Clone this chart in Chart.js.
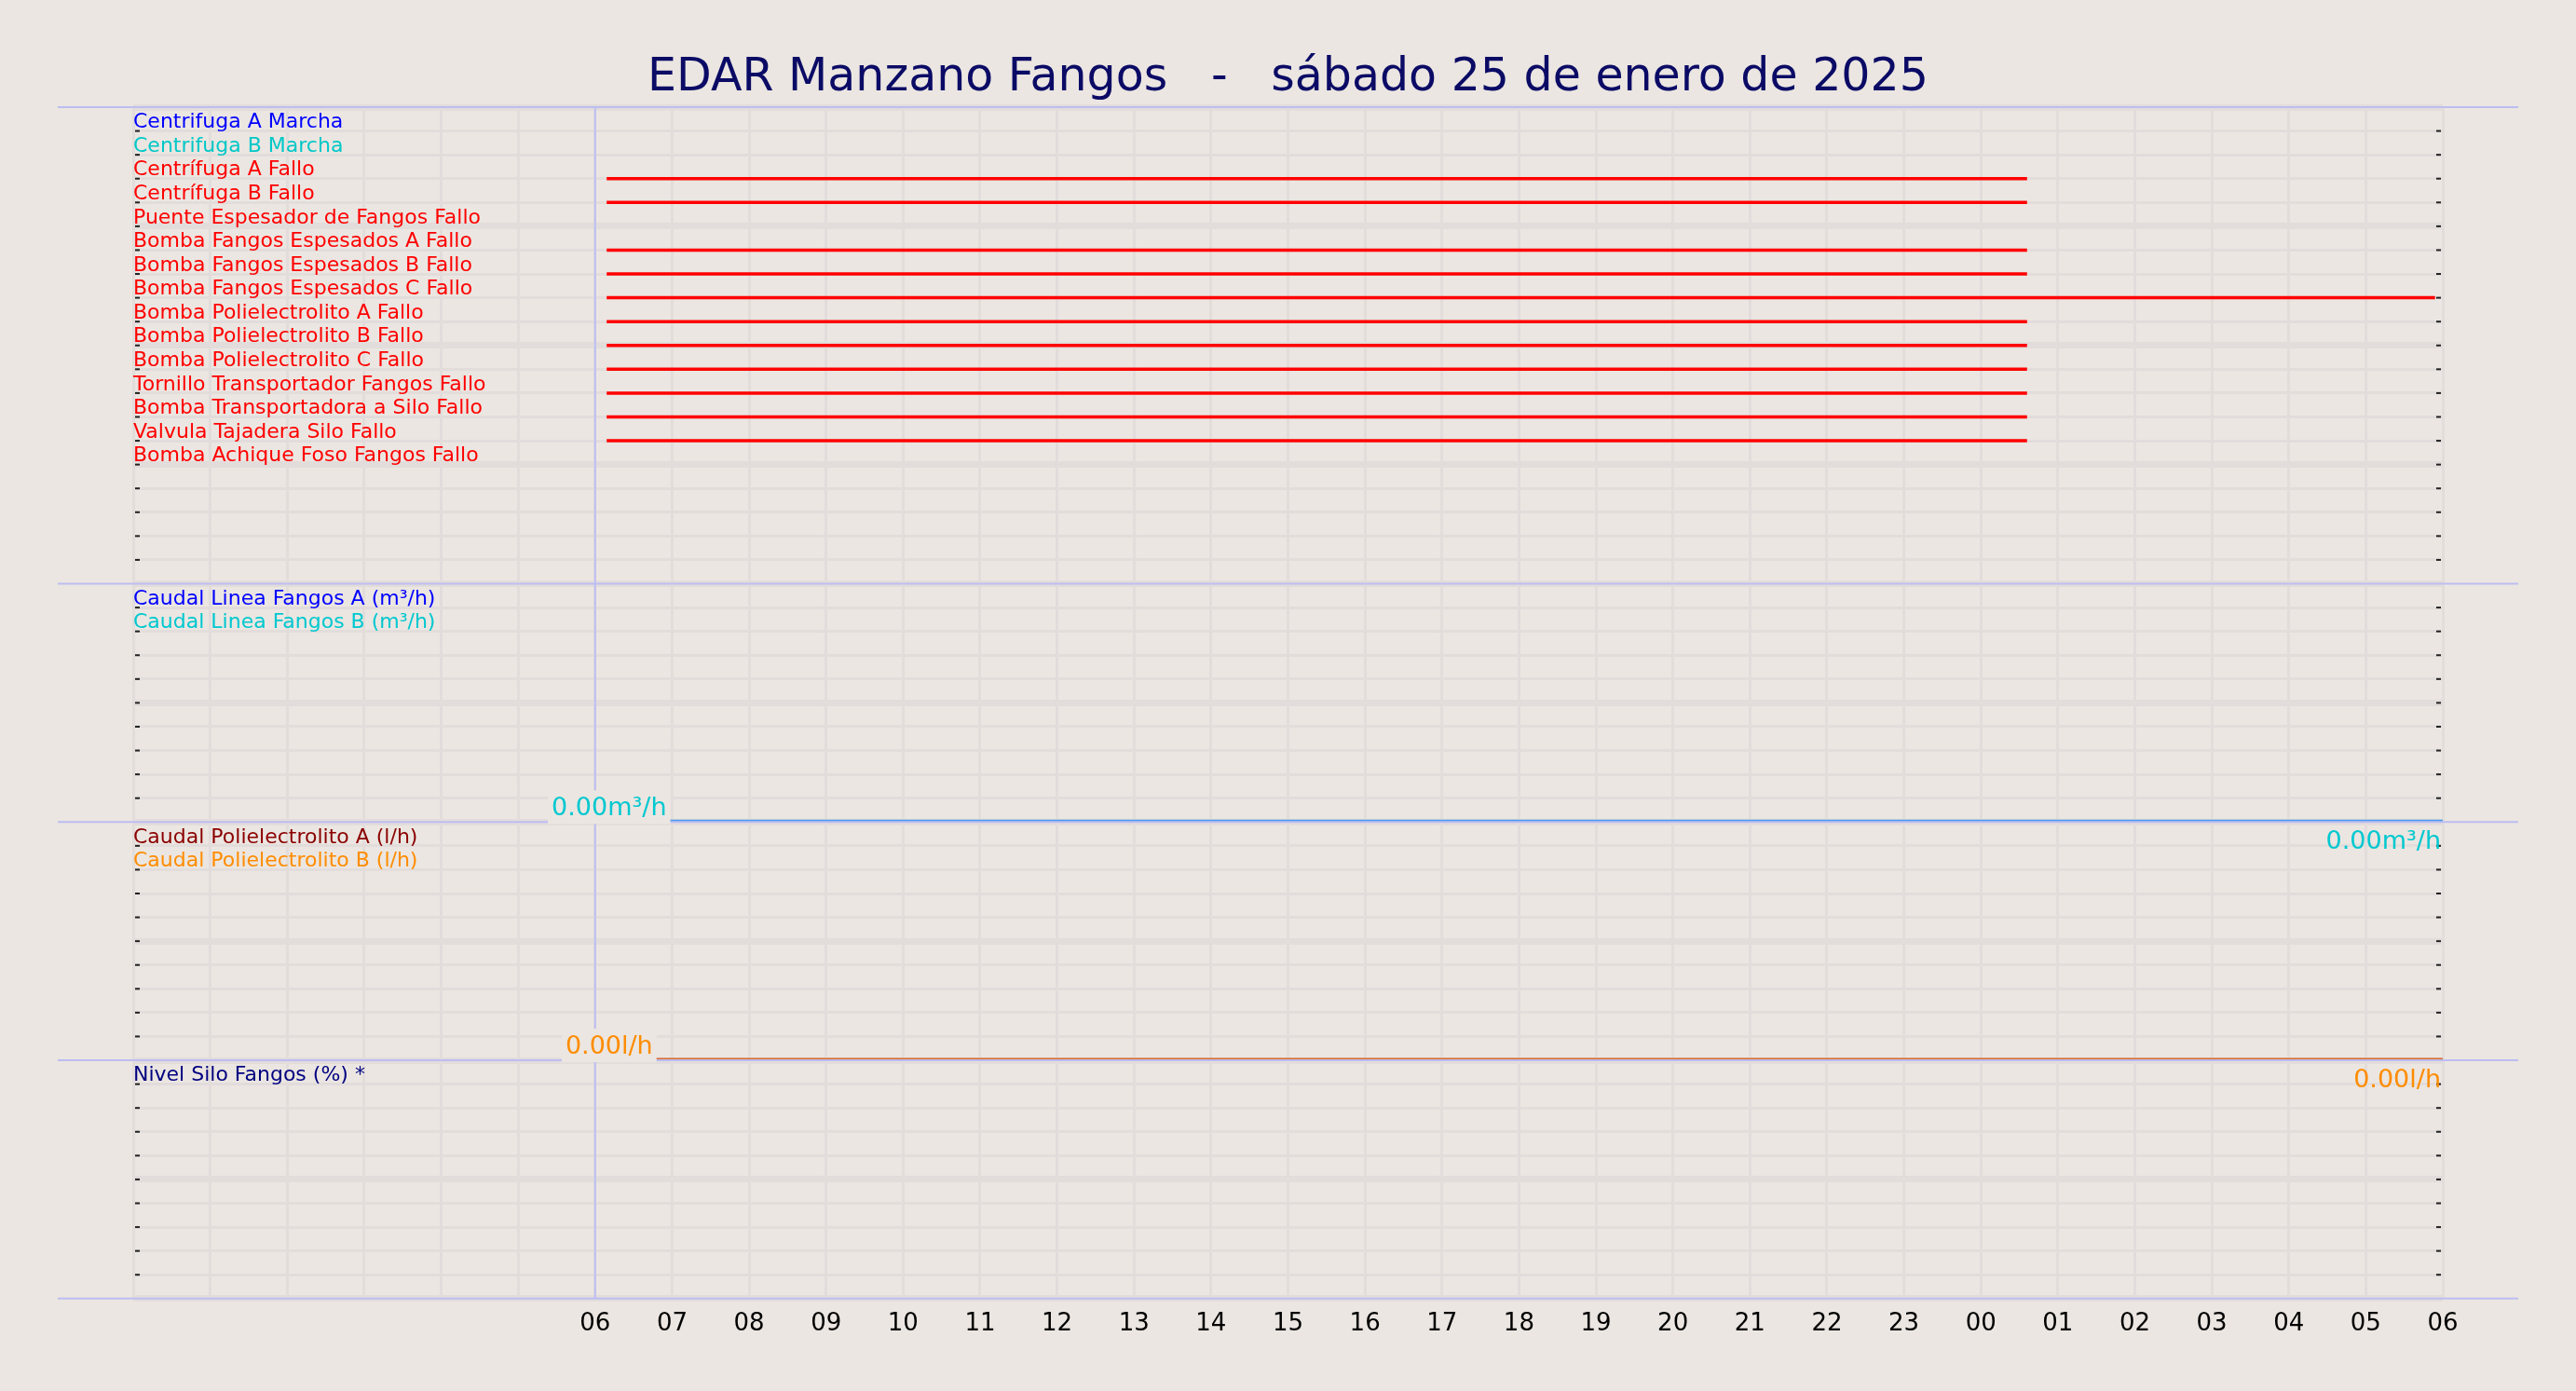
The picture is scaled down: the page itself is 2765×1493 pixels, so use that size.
<!DOCTYPE html>
<html><head><meta charset="utf-8">
<script src="https://cdn.jsdelivr.net/npm/chart.js@4"></script>
<style>
html,body{margin:0;padding:0;background:#ebe6e1;}
#wrap{position:relative;width:2765px;height:1493px;}
#title{position:absolute;left:0;top:52px;width:2765px;text-align:center;font:49px "DejaVu Sans";color:#0b0b66;white-space:pre;}
</style></head><body>
<div id="wrap"><canvas id="c" width="2765" height="1493"></canvas><div id="title">EDAR Manzano Fangos   -   sábado 25 de enero de 2025</div></div>
<script>
// ---- data ----
const hourMin = 0, hourMax = 30;           // hours from 00:00 25-ene to 06:00 26-ene
const signalNames = ["Centrifuga A Marcha","Centrifuga B Marcha","Centrífuga A Fallo","Centrífuga B Fallo","Puente Espesador de Fangos Fallo","Bomba Fangos Espesados A Fallo","Bomba Fangos Espesados B Fallo","Bomba Fangos Espesados C Fallo","Bomba Polielectrolito A Fallo","Bomba Polielectrolito B Fallo","Bomba Polielectrolito C Fallo","Tornillo Transportador Fangos Fallo","Bomba Transportadora a Silo Fallo","Valvula Tajadera Silo Fallo","Bomba Achique Foso Fangos Fallo"];
const signalColors = ["#0000ff","#00c8c8","#ff0000","#ff0000","#ff0000","#ff0000","#ff0000","#ff0000","#ff0000","#ff0000","#ff0000","#ff0000","#ff0000","#ff0000","#ff0000"];
// active periods [start,end] in hours, null = never active
const signalStart = [null,null,6.15,6.15,null,6.15,6.15,6.15,6.15,6.15,6.15,6.15,6.15,6.15,null];
const signalEnd   = [null,null,24.6,24.6,null,24.6,24.6,29.9,24.6,24.6,24.6,24.6,24.6,24.6,null];
const flowNames = ["Caudal Linea Fangos A (m³/h)","Caudal Linea Fangos B (m³/h)"];
const flowColors = ["#0000ff","#00c8d0"];
const flowTimes = [6, 30];
const flowA = [0, 0];
const flowB = [0, 0];
const polyNames = ["Caudal Polielectrolito A (l/h)","Caudal Polielectrolito B (l/h)"];
const polyColors = ["#8b0000","#ff8c00"];
const polyTimes = [6, 30];
const polyA = [0, 0];
const polyB = [0, 0];
const siloNames = ["Nivel Silo Fangos (%) *"];
const siloColors = ["#000080"];
const nowHour = 6;

// ---- datasets ----
const datasets = [];
signalNames.forEach((n,i)=>{
  if(signalStart[i]===null) return;
  datasets.push({label:n,yAxisID:'y1',borderColor:signalColors[i],borderWidth:3.5,pointRadius:0,
    data:[{x:signalStart[i],y:i+1},{x:signalEnd[i],y:i+1}]});
});
datasets.push({label:flowNames[0],yAxisID:'y2',borderColor:'#4a9be8',borderWidth:5,pointRadius:0,unit:'m³/h',data:flowTimes.map((t,i)=>({x:t,y:flowA[i]}))});
datasets.push({label:flowNames[1],yAxisID:'y2',borderColor:flowColors[1],borderWidth:2,pointRadius:0,unit:'m³/h',valueLabel:true,data:flowTimes.map((t,i)=>({x:t,y:flowB[i]}))});
datasets.push({label:polyNames[0],yAxisID:'y3',borderColor:'#d86a30',borderWidth:5,pointRadius:0,unit:'l/h',data:polyTimes.map((t,i)=>({x:t,y:polyA[i]}))});
datasets.push({label:polyNames[1],yAxisID:'y3',borderColor:polyColors[1],borderWidth:2,pointRadius:0,unit:'l/h',valueLabel:true,data:polyTimes.map((t,i)=>({x:t,y:polyB[i]}))});

const GRID='#e2dddb';
function yAxis(weight,min,max,reverse,names,colors,topIndexFn){
  return {type:'linear',position:'left',stack:'p',stackWeight:weight,min:min,max:max,reverse:reverse,
    border:{display:false},
    grid:{color:GRID,drawTicks:false,lineWidth:c=>(c.tick && c.tick.value%5===0)?7:3},
    ticks:{stepSize:1,mirror:true,padding:0,labelOffset:-9,autoSkip:false,
      font:{family:'DejaVu Sans',size:22},
      callback:v=>{const k=topIndexFn(v);return (k>=0&&k<names.length)?names[k]:'';},
      color:c=>{const k=topIndexFn(c.tick.value);return (k>=0&&k<colors.length)?colors[k]:'#000';}}};
}

const overlay={id:'overlay',
  afterDraw(chart){
    const ctx=chart.ctx, a=chart.chartArea, xs=chart.scales.x;
    ctx.save();
    ctx.strokeStyle='#222';ctx.lineWidth=2;
    ['y1','y2','y3','y4'].forEach(id=>{const s=chart.scales[id];
      s.ticks.forEach(t=>{const y=s.getPixelForValue(t.value); if(Math.abs(y-s.top)<2||Math.abs(y-s.bottom)<2) return;
        ctx.beginPath();ctx.moveTo(a.right-7,y);ctx.lineTo(a.right-2,y);ctx.stroke();
        ctx.beginPath();ctx.moveTo(a.left+2,y);ctx.lineTo(a.left+7,y);ctx.stroke();});});
    ctx.strokeStyle='#bdbdf2';ctx.lineWidth=2;
    const nx=xs.getPixelForValue(nowHour);
    ctx.beginPath();ctx.moveTo(nx,a.top);ctx.lineTo(nx,a.bottom);ctx.stroke();
    const ys=[chart.scales.y1.top,chart.scales.y1.bottom,chart.scales.y2.bottom,chart.scales.y3.bottom,chart.scales.y4.bottom];
    ys.forEach(y=>{ctx.beginPath();ctx.moveTo(62,y);ctx.lineTo(2703,y);ctx.stroke();});
    ctx.font='27px "DejaVu Sans"';
    chart.data.datasets.forEach(d=>{
      if(!d.valueLabel) return;
      const s=chart.scales[d.yAxisID];
      const first=d.data[0], last=d.data[d.data.length-1];
      const txt1=first.y.toFixed(2)+d.unit, txt2=last.y.toFixed(2)+d.unit;
      const y1=s.getPixelForValue(first.y);
      const w=ctx.measureText(txt1).width;
      const cx=xs.getPixelForValue(first.x)+15;
      ctx.fillStyle='#ebe6e1';ctx.fillRect(cx-w/2-4,y1-34,w+8,36);
      ctx.fillStyle=d.borderColor;ctx.textAlign='center';ctx.textBaseline='alphabetic';
      ctx.fillText(txt1,cx,y1-7);
      ctx.textAlign='right';ctx.textBaseline='top';
      ctx.fillText(txt2,xs.getPixelForValue(last.x)-2,s.getPixelForValue(last.y)+8);
    });
    ctx.restore();
  }};

new Chart(document.getElementById('c'),{
  type:'line',
  data:{datasets:datasets},
  options:{responsive:false,animation:false,devicePixelRatio:1,
    layout:{padding:{left:143,right:143,top:115,bottom:44}},
    plugins:{legend:{display:false},tooltip:{enabled:false},title:{display:false}},
    scales:{
      x:{type:'linear',min:hourMin,max:hourMax,border:{display:false},
        grid:{color:GRID,lineWidth:3,drawTicks:false},
        ticks:{stepSize:1,padding:12,autoSkip:false,maxRotation:0,color:'#000',font:{family:'DejaVu Sans',size:26},
          callback:v=>v<6?'':String(v%24).padStart(2,'0')}},
      y4:yAxis(1,0,10,false,siloNames,siloColors,v=>9-v),
      y3:yAxis(1,0,10,false,polyNames,polyColors,v=>9-v),
      y2:yAxis(1,0,10,false,flowNames,flowColors,v=>9-v),
      y1:yAxis(2,0,20,true,signalNames,signalColors,v=>v-1)
    }},
  plugins:[overlay]
});
</script></body></html>
